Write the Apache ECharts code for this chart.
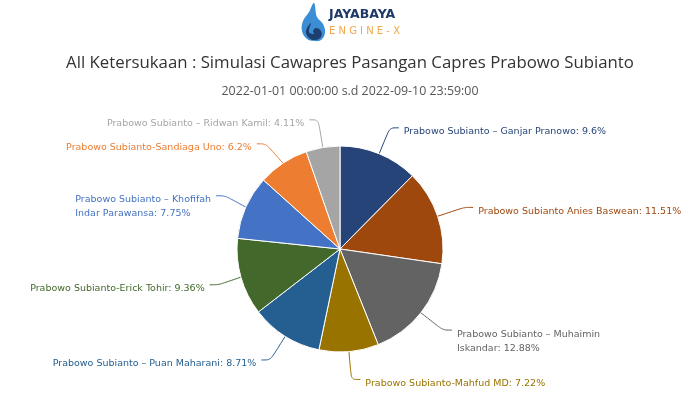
<!DOCTYPE html>
<html>
<head>
<meta charset="utf-8">
<script src="https://cdn.jsdelivr.net/npm/echarts@6/dist/echarts.min.js"></script>
<style>
html,body{margin:0;padding:0;background:#fff;}
#c{width:700px;height:393px;}
</style>
</head>
<body>
<div id="c"></div>
<script>
var titleText = 'All Ketersukaan : Simulasi Cawapres Pasangan Capres Prabowo Subianto';
var subtitleText = '2022-01-01 00:00:00 s.d 2022-09-10 23:59:00';
var categories = [
  'Prabowo Subianto \u2013 Ganjar Pranowo',
  'Prabowo Subianto Anies Baswean',
  'Prabowo Subianto \u2013 Muhaimin Iskandar',
  'Prabowo Subianto-Mahfud MD',
  'Prabowo Subianto \u2013 Puan Maharani',
  'Prabowo Subianto-Erick Tohir',
  'Prabowo Subianto \u2013 Khofifah Indar Parawansa',
  'Prabowo Subianto-Sandiaga Uno',
  'Prabowo Subianto \u2013 Ridwan Kamil'
];
var values = [9.6, 11.51, 12.88, 7.22, 8.71, 9.36, 7.75, 6.2, 4.11];
var colors = ['#264478', '#9E480E', '#636363', '#997300', '#255E91', '#43682B', '#4472C4', '#ED7D31', '#A5A5A5'];

function isLong(name) { return name.length > 34; }
function wrapText(text, maxChars) {
  var words = text.split(' '), lines = [], cur = '';
  words.forEach(function (w) {
    var next = cur ? cur + ' ' + w : w;
    if (next.length > maxChars && cur) { lines.push(cur); cur = w; } else { cur = next; }
  });
  if (cur) lines.push(cur);
  return lines;
}

var data = categories.map(function (name, i) {
  var label = { color: colors[i], padding: [isLong(name) ? 22 : 8, 0, 0, 0] };
  return { name: name, value: values[i], itemStyle: { color: colors[i] }, label: label };
});

var chart = echarts.init(document.getElementById('c'));
chart.setOption({
  backgroundColor: '#ffffff',
  animation: false,
  title: [
    { text: titleText, left: 'center', top: 50,
      textStyle: { fontFamily: 'Open Sans', fontSize: 16.8, fontWeight: 'normal', color: '#333333' } },
    { text: subtitleText, left: 'center', top: 80,
      textStyle: { fontFamily: 'Open Sans', fontSize: 12.4, fontWeight: 'normal', color: '#555555' } }
  ],
  graphic: [
    { type: 'polygon', shape: { smooth: 0.4, points: [[314,3],[309,12],[303,21],[302,31],[307,39],[314,41],[321,40],[325,33],[323,24],[317,17]] },
      style: { fill: '#3b8ed3' } },
    { type: 'polygon', shape: { smooth: 0.4, points: [[311,23],[306,31],[309,38],[315,40],[321,37],[321,31],[316,28],[313,31],[314,34],[309,32]] },
      style: { fill: '#1d3f70' } },
    { type: 'text', left: 329, top: 8,
      style: { text: 'JAYABAYA', fontFamily: 'DejaVu Sans', fontWeight: 'bold', fontSize: 12.5, fill: '#1e3a66' } },
    { type: 'text', left: 329, top: 26,
      style: { text: 'E N G I N E - X', fontFamily: 'DejaVu Sans', fontSize: 10, fill: '#f0a848' } }
  ],
  series: [{
    type: 'pie',
    center: [340, 249],
    radius: 103,
    startAngle: 90,
    clockwise: true,
    avoidLabelOverlap: true,
    itemStyle: { borderColor: '#ffffff', borderWidth: 1 },
    label: {
      show: true,
      formatter: function (p) {
        var text = p.name + ': ' + p.value + '%';
        var lines = isLong(p.name) ? wrapText(text, 30) : [text];
        return lines.map(function (l) { return '{t|' + l + '}'; }).join('\n');
      },
      fontFamily: 'DejaVu Sans',
      fontSize: 9.5,
      lineHeight: 14,
      rich: { t: { align: 'left', fontFamily: 'DejaVu Sans', fontSize: 9.5, lineHeight: 14 } }
    },
    labelLine: { show: true, length: 28, length2: 9, smooth: 0.3, lineStyle: { width: 1 } },
    data: data
  }]
});
</script>
</body>
</html>
